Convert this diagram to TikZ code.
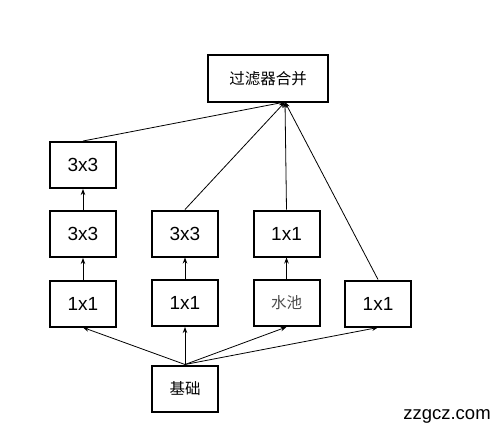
\documentclass[tikz,border=0pt]{standalone}
\usepackage{fontspec}
\setmainfont{Liberation Sans}
\newfontfamily\cjk{Noto Sans CJK SC}
\usetikzlibrary{arrows.meta}
\begin{document}
\begin{tikzpicture}[x=1pt,y=-1pt,
  box/.style={draw=black,line width=2pt,minimum width=66pt,minimum height=46pt,inner sep=0pt,font=\fontsize{19}{21}\selectfont},
  cbox/.style={box,font=\cjk\fontsize{15.5}{18}\selectfont},
  conn/.style={line width=0.8pt,-{Stealth[length=6pt,width=4.5pt]}}]
\useasboundingbox (0,0) rectangle (500,429);
\node[cbox,minimum width=120pt,minimum height=47pt] (merge) at (268,78.5) {过滤器合并};
\node[box] (a3) at (83,165) {3x3};
\node[box] (a2) at (83,234) {3x3};
\node[box] (a1) at (83,303.5) {1x1};
\node[box] (b2) at (185,233.5) {3x3};
\node[box] (b1) at (185,303) {1x1};
\node[box] (c2) at (286.5,233.5) {1x1};
\node[cbox,text=black!70] (c1) at (286.5,303) {水池};
\node[box] (d1) at (378,303.5) {1x1};
\node[cbox] (base) at (185,388.5) {基础};
\node[font=\fontsize{18.5}{20}\selectfont] (wm) at (447,416) {zzgcz.com};
\coordinate (m) at (285,102);
\foreach \n in {a1,b1,c1,d1} \draw[conn] (base.north) -- (\n.south);
\draw[conn] (a1) -- (a2);
\draw[conn] (a2) -- (a3);
\draw[conn] (b1) -- (b2);
\draw[conn] (c1) -- (c2);
\foreach \n in {a3,b2,c2,d1} \draw[conn] (\n.north) -- (m);
\end{tikzpicture}
\end{document}
